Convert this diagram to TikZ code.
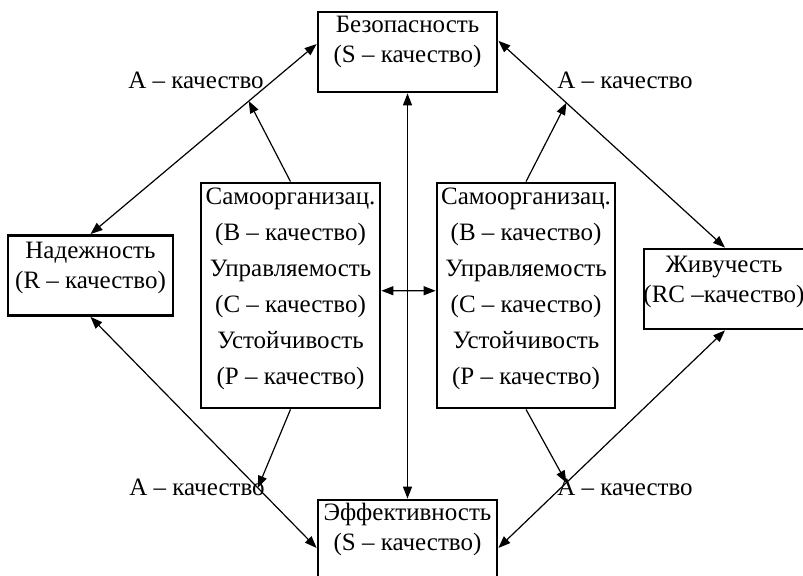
\documentclass[tikz,border=0pt]{standalone}
\usepackage{fontspec}
\setmainfont{Liberation Serif}
\usetikzlibrary{arrows.meta,calc}

\begin{document}
\begin{tikzpicture}[
  x=0.5pt,y=-0.5pt,
  >={Triangle[length=6pt,width=4.5pt]},
  every node/.style={font=\fontsize{12.5}{15}\selectfont},
  qbox/.style={draw,line width=1.4pt,minimum width=89.5pt,minimum height=40pt,inner sep=0pt},
  qtext/.style={align=center,inner sep=0pt},
  link/.style={<->,line width=0.6pt},
  feed/.style={->,line width=0.6pt},
]
  \useasboundingbox (0,0) rectangle (803,576);

  % Outer qualities
  \node[qbox] (bez) at (407.5,52) {};
  \node[qtext] (bezT) at (407.5,42) {Безопасность\\(S – качество)};

  \node[qbox,minimum width=82.5pt] (nad) at (90.5,275.5) {};
  \node[qtext] (nadT) at (90.5,268) {Надежность\\(R – качество)};

  \node[qbox,minimum width=81pt] (ziv) at (725,289) {};
  \node[qtext] (zivT) at (724,282) {Живучесть\\(RC –качество)};

  \node[qbox] (eff) at (407.5,540) {};
  \node[qtext] (effT) at (407.5,529) {Эффективность\\(S – качество)};

  % Inner qualities
  \node[qbox,minimum height=112.5pt] (lc) at (290.5,295.5) {};
  \node[qtext,font=\fontsize{12.5}{18}\selectfont] (lcT) at (290.5,289)
    {Самоорганизац.\\(B – качество)\\Управляемость\\(C – качество)\\Устойчивость\\(P – качество)};

  \node[qbox,minimum width=89pt,minimum height=112.5pt] (rc) at (526,295.5) {};
  \node[qtext,font=\fontsize{12.5}{18}\selectfont] (rcT) at (526,289)
    {Самоорганизац.\\(B – качество)\\Управляемость\\(C – качество)\\Устойчивость\\(P – качество)};

  % Connections
  \draw[link] (bez.175) -- (nad.north);
  \draw[link] (bez.7) -- (ziv.north);
  \draw[link] (nad.south) -- (eff.185);
  \draw[link] (eff.-5) -- (ziv.south);
  \draw[link] (bez.south) -- (eff.north);
  \draw[link] (lc.3) -- (rc.177);

  % Feeds onto the A-links
  \coordinate (tl) at ($(bez.175)!0.3!(nad.north)$);
  \coordinate (tr) at ($(bez.7)!0.3!(ziv.north)$);
  \coordinate (bl) at ($(nad.south)!0.74!(eff.185)$);
  \coordinate (br) at ($(eff.-5)!0.3!(ziv.south)$);
  \draw[feed] (lc.north) -- (tl);
  \draw[feed] (rc.north) -- (tr);
  \draw[feed] (lc.south) -- (bl);
  \draw[feed] (rc.south) -- (br);

  % Labels
  \node (la1) at (196,80) {A – качество};
  \node (la2) at (625,80) {A – качество};
  \node (la3) at (197,487) {A – качество};
  \node (la4) at (625,487) {A – качество};
\end{tikzpicture}
\end{document}
